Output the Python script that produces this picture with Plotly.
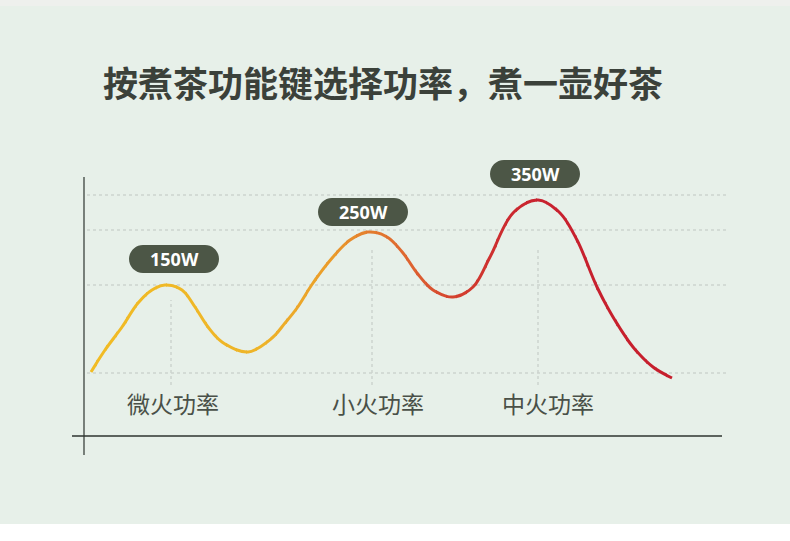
import plotly.graph_objects as go

# page size and where the two axis lines cross, in px from the top-left corner
W, H = 790, 541
X0, Y0 = 84, 436

# curve: px to the right of the y-axis line, px above the x-axis line
curve_x = [7, 21, 38, 54, 68, 81, 98, 111, 124, 138, 164, 188, 201, 213, 229, 249,
           266, 284, 303, 319, 333, 349, 369, 389, 406, 429, 454, 476, 493, 513,
           529, 549, 569, 588]
curve_y = [64, 86, 109, 133, 146, 151, 146, 129, 109, 94, 84, 98, 113, 128, 153, 179,
           196, 204, 199, 183, 163, 146, 139, 149, 179, 223, 236, 223, 196, 149,
           119, 89, 69, 58]

# power labels sit on the three peaks of the curve
peak_idx = [5, 17, 26]
peak_labels = ["150W", "250W", "350W"]

# category labels under the peaks
categories = ["微火功率", "小火功率", "中火功率"]
cat_x = [89, 294, 464]
cat_y = [29, 29, 29]

# dotted guides
grid_levels = [241, 206, 151, 63]
vline_x = [87, 288, 454]
vline_top = [136, 186, 186]
vline_bottom = 51

title = "按煮茶功能键选择功率，煮一壶好茶"

# styles
bg = "#e7f0e9"
ink = "#3b413a"
pill_fill = "#4c5646"
grid_col = "#cdd4ce"
pill_w, pill_h = 90, 28
pill_dx = [9, -5, -3]
pill_dy = [26, 20, 26]
# colour stops of the curve, by page x in px
stops = [(86, (241, 188, 36)), (260, (238, 180, 40)), (330, (234, 156, 42)),
         (370, (227, 124, 46)), (410, (222, 100, 48)), (453, (212, 66, 47)),
         (500, (204, 44, 47)), (540, (200, 34, 47)), (680, (198, 30, 44))]


def grad(px):
    for (a, ca), (b, cb) in zip(stops, stops[1:]):
        if a <= px <= b:
            t = (px - a) / (b - a)
            c = [round(ca[i] + (cb[i] - ca[i]) * t) for i in range(3)]
            return "rgb(%d,%d,%d)" % tuple(c)
    return "rgb(%d,%d,%d)" % (stops[-1][1] if px > stops[-1][0] else stops[0][1])


fig = go.Figure()

# category labels on the main subplot (this also keeps the x/y subplot alive)
fig.add_trace(go.Scatter(x=cat_x, y=cat_y, mode="text", text=categories,
                         textfont=dict(family="Noto Sans CJK SC", size=23, color="#4a5048"),
                         hoverinfo="skip"))

layout = dict(
    width=W, height=H, margin=dict(l=0, r=0, t=0, b=0),
    paper_bgcolor=bg, plot_bgcolor="rgba(0,0,0,0)", showlegend=False,
    xaxis=dict(range=[-X0, W - X0], visible=False, fixedrange=True),
    yaxis=dict(range=[Y0 - H, Y0], visible=False, fixedrange=True),
)

# the curve is drawn once per thin vertical strip, each strip its own x-axis
# with the same scale as the main one, so the clip gives a colour gradient
step = 10
k = 2
for px in range(86, 680, step):
    name = "xaxis%d" % k
    layout[name] = dict(domain=[px / W, min(px + step + 1, W) / W],
                        range=[px - X0, min(px + step + 1, W) - X0],
                        anchor="y", visible=False, fixedrange=True)
    fig.add_trace(go.Scatter(x=curve_x, y=curve_y, mode="lines",
                             line=dict(color=grad(px + step / 2), width=3, shape="spline"),
                             xaxis="x%d" % k, yaxis="y", hoverinfo="skip"))
    k += 1

fig.update_layout(**layout)

# background strips at the top and bottom of the page
fig.add_shape(type="rect", xref="paper", yref="paper", x0=0, x1=1, y0=0, y1=17 / H,
              fillcolor="white", line_width=0, layer="below")
fig.add_shape(type="rect", xref="paper", yref="paper", x0=0, x1=1, y0=1 - 6 / H, y1=1,
              fillcolor="#eef0ed", line_width=0, layer="below")

# dotted grid
for g in grid_levels:
    fig.add_shape(type="line", xref="x", yref="y", x0=3, x1=643, y0=g, y1=g,
                  line=dict(color=grid_col, width=1.5, dash="dot"), layer="below")
for vx, vt in zip(vline_x, vline_top):
    fig.add_shape(type="line", xref="x", yref="y", x0=vx, x1=vx, y0=vline_bottom, y1=vt,
                  line=dict(color=grid_col, width=1.5, dash="dot"), layer="below")

# axis lines
fig.add_shape(type="line", xref="x", yref="y", x0=0, x1=0, y0=-19, y1=259,
              line=dict(color="#2e342f", width=1.2))
fig.add_shape(type="line", xref="x", yref="y", x0=-12, x1=638, y0=0, y1=0,
              line=dict(color="#2e342f", width=1.5))

# pills with the power values
r = pill_h / 2
q = 0.5523 * r
for i, lab, dx, dy in zip(peak_idx, peak_labels, pill_dx, pill_dy):
    cx = curve_x[i] + dx
    cy = curve_y[i] + dy
    x0, x1 = cx - pill_w / 2, cx + pill_w / 2
    path = ("M {a},{b} L {c},{b} C {d},{b} {x1},{e} {x1},{cy} "
            "C {x1},{f} {d},{g} {c},{g} L {a},{g} "
            "C {h},{g} {x0},{f} {x0},{cy} C {x0},{e} {h},{b} {a},{b} Z").format(
        a=x0 + r, b=cy - r, c=x1 - r, d=x1 - r + q, e=cy - q, f=cy + q,
        g=cy + r, h=x0 + r - q, x0=x0, x1=x1, cy=cy)
    fig.add_shape(type="path", xref="x", yref="y", path=path, fillcolor=pill_fill, line_width=0)
    fig.add_annotation(xref="x", yref="y", x=cx, y=cy, text="<b>%s</b>" % lab, showarrow=False,
                       font=dict(family="Noto Sans", size=18, color="white"))

# title
fig.add_annotation(xref="paper", yref="paper", x=383 / W, y=1 - 81 / H, text="<b>%s</b>" % title,
                   showarrow=False, yanchor="middle",
                   font=dict(family="Noto Sans CJK SC", size=35, color=ink))

fig.write_html("out.html", config={"displayModeBar": False},
               post_script="document.body.style.margin='0';")
